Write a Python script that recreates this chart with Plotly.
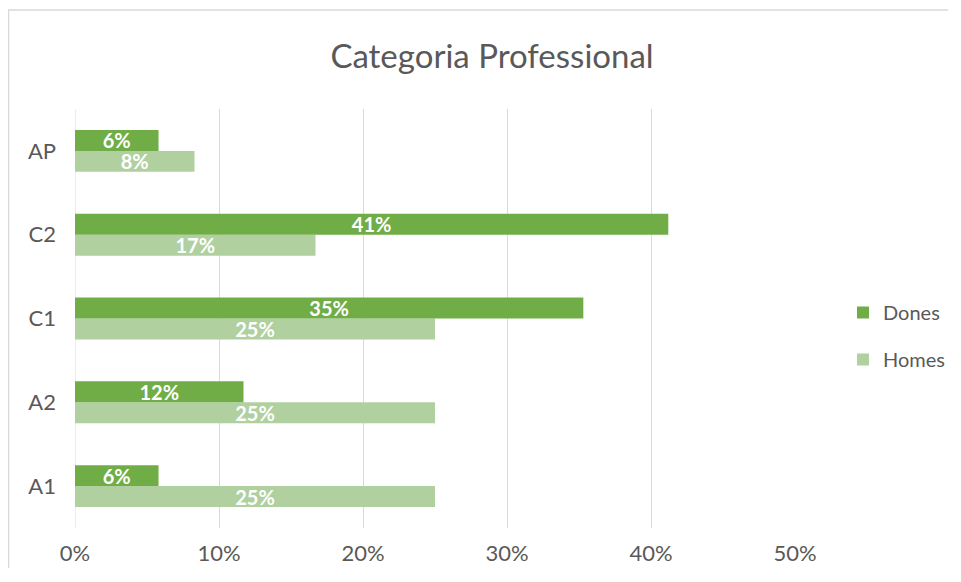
import plotly.graph_objects as go

categories = ["A1", "A2", "C1", "C2", "AP"]
dones = [0.058, 0.117, 0.353, 0.412, 0.058]
homes = [0.25, 0.25, 0.25, 0.167, 0.083]
x_ticks = [0, 0.1, 0.2, 0.3, 0.4, 0.5]
x_tick_labels = ["0%", "10%", "20%", "30%", "40%", "50%"]

font_family = "Lato, Carlito, 'Open Sans', sans-serif"
grey = "#595959"

fig = go.Figure()
fig.add_trace(go.Bar(
    y=categories, x=homes, name="Homes", orientation="h",
    marker=dict(color="#B0D09F", line=dict(width=0)),
    texttemplate="%{x:.0%}", textposition="inside", insidetextanchor="middle",
    constraintext="none",
    textfont=dict(color="white", size=20, family=font_family, weight="bold"),
    legendgroup="h", legendrank=2, hoverinfo="skip",
))
fig.add_trace(go.Bar(
    y=categories, x=dones, name="Dones", orientation="h",
    marker=dict(color="#70AD47", line=dict(width=0)),
    texttemplate="%{x:.0%}", textposition="inside", insidetextanchor="middle",
    constraintext="none",
    textfont=dict(color="white", size=20, family=font_family, weight="bold"),
    legendgroup="d", legendrank=1, hoverinfo="skip",
))

# page has an 8px body margin; figure coordinates = page coordinates - 8
W, H = 940, 560
L, T = 67, 101
R = W - 787
B = H - 520
pw, ph = W - L - R, H - T - B

def px_x(p):
    return (p - L) / pw

def px_y(p):
    return (H - B - p) / ph

fig.update_layout(
    width=W, height=H,
    margin=dict(l=L, r=R, t=T, b=B, autoexpand=False),
    paper_bgcolor="white", plot_bgcolor="white",
    barmode="group", bargap=0.5, bargroupgap=0,
    font=dict(family=font_family, color=grey, size=20),
    title=dict(text="Categoria Professional", x=484 / W, xref="container", xanchor="center",
               y=1 - 48 / H, yref="container", yanchor="middle",
               font=dict(size=33, color=grey, family=font_family)),
    xaxis=dict(range=[0, 0.5], tickvals=x_ticks, ticktext=x_tick_labels,
               showgrid=True, gridcolor="#D9D9D9", gridwidth=1,
               zeroline=False, showline=False, ticks="", ticklabelstandoff=10,
               tickfont=dict(size=22, color=grey), fixedrange=True),
    yaxis=dict(showgrid=False, zeroline=False, showline=False, ticks="",
               ticklabelstandoff=18, tickfont=dict(size=22, color=grey), fixedrange=True),
    legend=dict(x=px_x(835), y=px_y(328), xanchor="left", yanchor="middle",
                font=dict(size=20, color=grey), tracegroupgap=18,
                itemwidth=30, bgcolor="rgba(0,0,0,0)"),
    showlegend=True,
    shapes=[
        dict(type="line", xref="paper", yref="paper", x0=px_x(0), x1=px_x(W),
             y0=px_y(2), y1=px_y(2), line=dict(color="#D9D9D9", width=1.5)),
        dict(type="line", xref="paper", yref="paper", x0=px_x(0.5), x1=px_x(0.5),
             y0=px_y(2), y1=px_y(H), line=dict(color="#D9D9D9", width=1.5)),
        dict(type="line", xref="x", yref="paper", x0=0, x1=0, y0=0, y1=1,
             line=dict(color="#D9D9D9", width=1), layer="below"),
    ],
)

fig.write_html("out.html")
